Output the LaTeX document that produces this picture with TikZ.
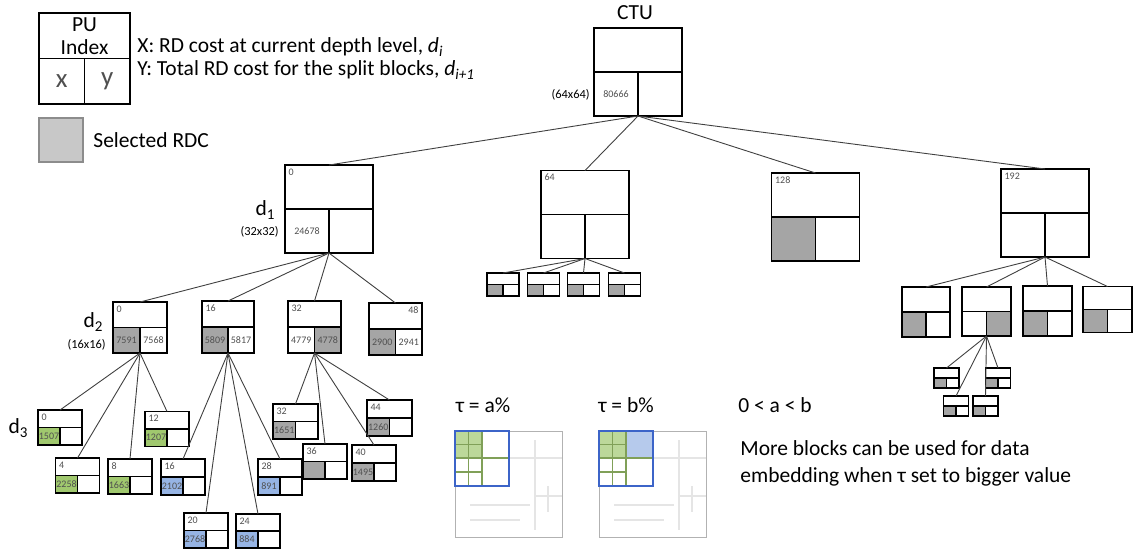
\documentclass[tikz,border=0pt]{standalone}
\usepackage{fontspec}
\setmainfont{Carlito}
\usetikzlibrary{calc}

\definecolor{selgray}{RGB}{165,165,165}
\definecolor{leggray}{RGB}{200,200,200}
\definecolor{selgreen}{RGB}{160,200,110}
\definecolor{selblue}{RGB}{150,180,228}
\definecolor{taublue}{RGB}{60,100,200}
\definecolor{numgray}{RGB}{80,80,80}

\newcommand{\pxunit}{0.5pt}
% PU block: name, centre, width, height, index, left fill, x, right fill, y
\newcommand{\pu}[9]{%
  \node[pubox, minimum width=#3*\pxunit, minimum height=#4*\pxunit] (#1) at (#2) {};
  \fill[#6] (#1.west) rectangle (#1.south);
  \fill[#8] (#1.south) rectangle (#1.east);
  \draw[puline] (#1.north west) rectangle (#1.south east);
  \draw[puline] (#1.west) -- (#1.east) (#1.center) -- (#1.south);
  \node[idx, anchor=north west] (#1-i) at (#1.north west) {#5};
  \node[val] (#1-x) at ($(#1.west)!0.5!(#1.south)$) {#7};
  \node[val] (#1-y) at ($(#1.south)!0.5!(#1.east)$) {#9};
}

\begin{document}
\begin{tikzpicture}[x=0.5pt, y=-0.5pt,
    pubox/.style={inner sep=0pt, outer sep=0pt},
    puline/.style={line width=0.75pt, black},
    edge/.style={line width=0.45pt, black!75},
    idx/.style={font=\fontsize{5}{6}\selectfont, text=numgray, inner sep=1.6pt},
    val/.style={font=\fontsize{5}{6}\selectfont, text=numgray, inner sep=0pt},
    lbl/.style={font=\fontsize{10.75}{11.5}\selectfont, inner sep=0pt},
    size/.style={font=\fontsize{6.2}{7}\selectfont, inner sep=0pt},
    frame/.style={line width=0.5pt, black!30},
    faint/.style={line width=0.6pt, black!10},
    cell/.style={line width=0.6pt, selgreen!80!black},
    taubox/.style={line width=1.3pt, taublue}]
\useasboundingbox (0,0) rectangle (1139,548);

% legend
\pu{leg}{84.5,58.5}{91}{91}{}{white}{\fontsize{13.5}{14}\selectfont x}{white}{\fontsize{13.5}{14}\selectfont y}
\node[lbl, align=center] (leg-t) at ($(leg.north)!0.5!(leg.center)$) {PU\\Index};
\node[lbl, anchor=west] (leg-x) at (137,47) {X: RD cost at current depth level, \textit{d}\textsubscript{\textit{i}}};
\node[lbl, anchor=west] (leg-y) at (137,70) {Y: Total RD cost for the split blocks, \textit{d}\textsubscript{\textit{i+1}}};
\node[draw=black!45, fill=leggray, line width=0.6pt, minimum size=44*\pxunit] (sel) at (61,140) {};
\node[lbl, anchor=west] (sel-t) at (93,140) {Selected RDC};

% CTU
\node[lbl] (ctu-t) at (635,13) {CTU};
\pu{ctu}{638,72}{88}{88}{}{white}{80666}{white}{}
\node[size, anchor=east] (ctu-s) at (590,95) {(64x64)};

% depth 1
\pu{d0}{329,209}{88}{88}{0}{white}{24678}{white}{}
\pu{b64}{585,214.5}{88}{88}{64}{white}{}{white}{}
\pu{b128}{815.5,217}{88}{88}{128}{selgray}{}{white}{}
\pu{b192}{1045,213}{88}{88}{192}{white}{}{white}{}
\node[lbl, anchor=east] (d1) at (276,210) {d\textsubscript{1}};
\node[size, anchor=east] (d1-s) at (279,232) {(32x32)};

% depth 2
\pu{c0}{140,327.5}{54}{51}{0}{selgray}{7591}{white}{7568}
\pu{c16}{228,327}{52}{52}{16}{selgray}{5809}{white}{5817}
\pu{c32}{314.5,327}{53}{52}{32}{white}{4779}{selgray}{4778}
\pu{c48}{395.5,329}{53}{52}{}{selgray}{2900}{white}{2941}
\node[idx, anchor=north east] (c48-i) at (c48.north east) {48};
\node[lbl, anchor=east] (d2) at (104,322) {d\textsubscript{2}};
\node[size, anchor=east] (d2-s) at (106,345) {(16x16)};

\pu{m1}{503,284.5}{32}{23}{}{selgray}{}{white}{}
\pu{m2}{543.5,284.5}{32}{23}{}{selgray}{}{white}{}
\pu{m3}{583.5,284.5}{32}{23}{}{selgray}{}{white}{}
\pu{m4}{624.5,284.5}{32}{23}{}{selgray}{}{white}{}

\pu{r1}{926,312}{48}{50}{}{selgray}{}{white}{}
\pu{r2}{986.5,311.5}{49}{49}{}{white}{}{selgray}{}
\pu{r3}{1047.5,311}{49}{50}{}{selgray}{}{white}{}
\pu{r4}{1107.5,309.5}{49}{46}{}{selgray}{}{white}{}

% depth 3
\pu{e0}{60,427.5}{44}{35}{0}{selgreen}{1507}{white}{}
\pu{e4}{77.5,475.5}{44}{35}{4}{selgreen}{2258}{white}{}
\pu{e8}{130,476.5}{44}{35}{8}{selgreen}{1663}{white}{}
\pu{e12}{167,429}{44}{35}{12}{selgreen}{1207}{white}{}
\pu{f16}{183,477}{44}{36}{16}{selblue}{2102}{white}{}
\pu{f20}{206,530.5}{44}{35}{20}{selblue}{2768}{white}{}
\pu{f24}{258,531}{44}{34}{24}{selblue}{884}{white}{}
\pu{f28}{280,477}{44}{36}{28}{selblue}{891}{white}{}
\pu{g32}{295.5,421.5}{45}{35}{32}{selgray}{1651}{white}{}
\pu{g36}{325,461.5}{44}{35}{36}{selgray}{}{white}{}
\pu{g40}{374,463}{44}{36}{40}{selgray}{1495}{white}{}
\pu{g44}{389.5,418}{45}{36}{44}{selgray}{1260}{white}{}
\node[lbl, anchor=east] (d3) at (29,428) {d\textsubscript{3}};

\pu{s1}{946.5,378}{25}{20}{}{selgray}{}{white}{}
\pu{s2}{998,378}{25}{20}{}{selgray}{}{white}{}
\pu{s3}{956,406}{25}{20}{}{selgray}{}{white}{}
\pu{s4}{985.5,406}{25}{20}{}{selgray}{}{white}{}

% tree links
\foreach \kid in {d0,b64,b128,b192} \draw[edge] (ctu.south) -- (\kid.north);
\foreach \kid in {c0,c16,c32,c48} \draw[edge] (d0.south) -- (\kid.north);
\foreach \kid in {e0,e4,e8,e12} \draw[edge] (c0.south) -- (\kid.north);
\foreach \kid in {f16,f20,f24,f28} \draw[edge] (c16.south) -- (\kid.north);
\foreach \kid in {g32,g36,g40,g44} \draw[edge] (c32.south) -- (\kid.north);
\foreach \kid in {m1,m2,m3,m4} \draw[edge] (b64.south) -- (\kid.north);
\foreach \kid in {r1,r2,r3,r4} \draw[edge] (b192.south) -- (\kid.north);
\foreach \kid in {s1,s2,s3,s4} \draw[edge] (r2.south) -- (\kid.north);

% tau examples
\node[lbl] (tau-a) at (483,405) {τ = a\%};
\node[lbl] (tau-b) at (626,405) {τ = b\%};
\node[lbl, anchor=west] (order) at (738,405) {0 < a < b};
\node[lbl, anchor=west, align=left, font=\fontsize{10.75}{13.5}\selectfont] (note) at (740,463.5)
  {More blocks can be used for data\\embedding when τ set to bigger value};

\foreach \dx/\tl in {0/white, 144/selblue} {
  \begin{scope}[shift={(\dx,0)}]
    \draw[frame] (455,431) rectangle (562,537);
    \draw[faint] (535,440) -- (535,530) (509,458) -- (562,458) (535,496) -- (562,496)
      (548,486) -- (548,512) (470,505) -- (530,505) (470,520) -- (520,520);
    \fill[selgreen!70] (455,431) rectangle (482,458);
    \fill[\tl!70] (482,431) rectangle (509,458);
    \draw[cell] (455,444.5) -- (482,444.5) (468.5,431) -- (468.5,486)
      (455,472) -- (482,472) (482,431) -- (482,486) (455,458) -- (509,458);
    \draw[taubox] (455,431) rectangle (509,486);
  \end{scope}
}
\end{tikzpicture}
\end{document}
